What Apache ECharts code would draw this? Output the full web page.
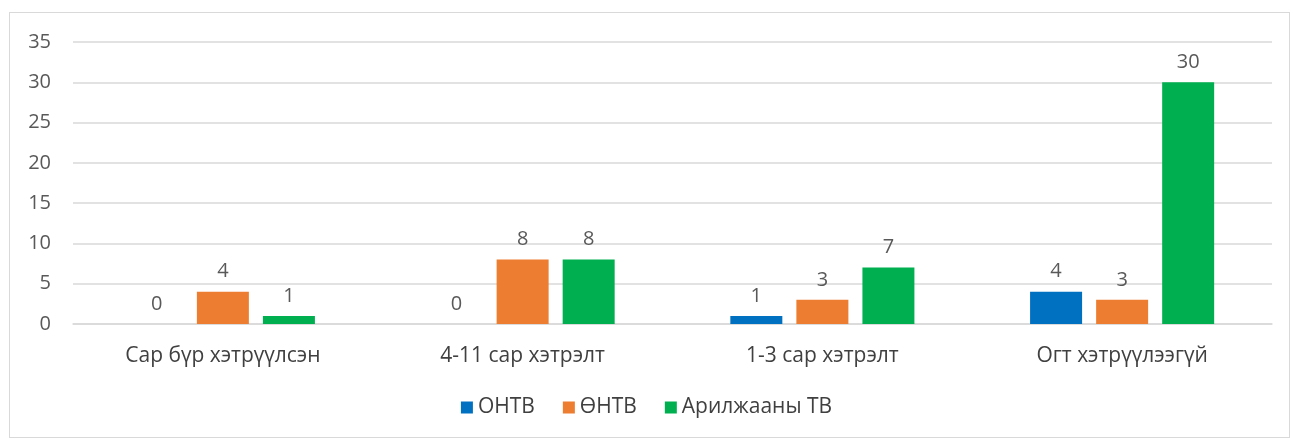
<!DOCTYPE html>
<html>
<head>
<meta charset="utf-8">
<script src="https://cdn.jsdelivr.net/npm/echarts@6/dist/echarts.min.js"></script>
<style>
  html, body { margin: 0; padding: 0; background: #fff; }
  .frame {
    position: absolute; left: 9px; top: 12px; width: 1281px; height: 426px;
    border: 1px solid #d9d9d9; box-sizing: border-box;
  }
  #chart { position: absolute; left: 0; top: 0; width: 1293px; height: 441px; }
</style>
</head>
<body>
<div class="frame"></div>
<div id="chart"></div>
<script>
// категориуд
const categories = ['Сар бүр хэтрүүлсэн', '4-11 сар хэтрэлт', '1-3 сар хэтрэлт', 'Огт хэтрүүлээгүй'];
const ontvValues = [0, 0, 1, 4];
const ountvValues = [4, 8, 3, 3];
const commercialValues = [1, 8, 7, 30];

const fontFamily = '"Segoe UI", "Open Sans", "Noto Sans", sans-serif';

const chart = echarts.init(document.getElementById('chart'));

const labelStyle = {
  show: true,
  position: 'top',
  distance: 10,
  color: '#595959',
  fontSize: 20,
  fontFamily: fontFamily,
};

function makeSeries(name, data, color) {
  return {
    name: name,
    type: 'bar',
    data: data,
    barWidth: 52,
    barGap: '27%',
    itemStyle: { color: color },
    label: labelStyle,
  };
}

const option = {
  animation: false,
  grid: { left: 73, right: 21, top: 42, bottom: 117 },
  legend: {
    bottom: 18,
    left: 'center',
    itemWidth: 12,
    itemHeight: 12,
    itemGap: 28,
    icon: 'rect',
    textStyle: { color: '#404040', fontSize: 21, fontFamily: fontFamily },
    data: ['ОНТВ', 'ӨНТВ', 'Арилжааны ТВ'],
  },
  xAxis: {
    type: 'category',
    data: categories,
    axisLine: { lineStyle: { color: '#d9d9d9', width: 1.5 } },
    axisTick: { show: false },
    axisLabel: { color: '#404040', fontSize: 21, fontFamily: fontFamily, margin: 22 },
  },
  yAxis: {
    type: 'value',
    min: 0,
    max: 35,
    interval: 5,
    axisLine: { show: false },
    axisTick: { show: false },
    splitLine: { lineStyle: { color: '#d9d9d9', width: 1.5 } },
    axisLabel: { color: '#595959', fontSize: 20, fontFamily: fontFamily, margin: 22 },
  },
  series: [
    makeSeries('ОНТВ', ontvValues, '#0070c0'),
    makeSeries('ӨНТВ', ountvValues, '#ed7d31'),
    makeSeries('Арилжааны ТВ', commercialValues, '#00b050'),
  ],
};

chart.setOption(option);
</script>
</body>
</html>
